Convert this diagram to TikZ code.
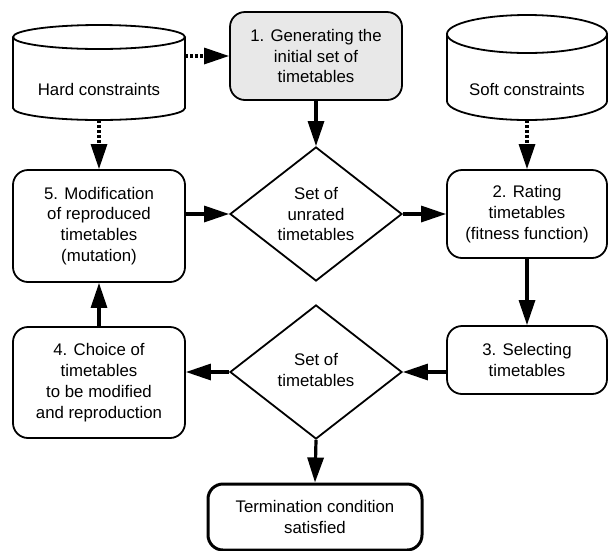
\documentclass[tikz,border=0pt]{standalone}
\usepackage{fontspec}
\setmainfont{Liberation Sans}
\usetikzlibrary{shapes.geometric,arrows.meta}
\begin{document}
\begin{tikzpicture}[x=1pt,y=-1pt,
  every node/.style={font=\fontsize{16.8}{20.8}\selectfont},
  box/.style={draw, line width=1.8pt, rounded corners=15pt, align=center, inner sep=0pt},
  dia/.style={draw, diamond, line width=1.8pt, inner sep=0pt, minimum width=172pt, minimum height=134pt},
  txt/.style={align=center, inner sep=0pt},
  cyl/.style={line width=1.8pt},
  arr/.style={line width=3.2pt, -{Triangle[length=25pt,width=16pt]}},
  darr/.style={line width=3.2pt, dash pattern=on 3pt off 2pt, -{Triangle[length=25pt,width=16pt]}}
]
\useasboundingbox (0,0) rectangle (610,550);

% Hard constraints cylinder
\draw[cyl] (99,37) ellipse [x radius=86, y radius=12];
\draw[cyl] (13,37) -- (13,108) arc [start angle=180, end angle=0, x radius=86, y radius=12] -- (185,37);
\node[inner sep=0pt, minimum width=172pt, minimum height=95pt] (hard) at (99,72.5) {};
\node[txt] (hardt) at (99,89) {Hard constraints};

% Soft constraints cylinder
\draw[cyl] (527,34) ellipse [x radius=80, y radius=19];
\draw[cyl] (447,34) -- (447,101) arc [start angle=180, end angle=0, x radius=80, y radius=19] -- (607,34);
\node[inner sep=0pt, minimum width=160pt, minimum height=105pt] (soft) at (527,67.5) {};
\node[txt] (softt) at (527,89) {Soft constraints};

% Boxes
\node[box, fill=gray!18, minimum width=172pt, minimum height=88pt] (b1) at (316,56) {1. Generating the\\initial set of\\timetables};
\node[box, minimum width=172pt, minimum height=112pt] (b5) at (99,226) {5. Modification\\of reproduced\\timetables\\(mutation)};
\node[box, minimum width=160pt, minimum height=88pt] (b2) at (527,214) {2. Rating\\timetables\\(fitness function)};
\node[box, minimum width=160pt, minimum height=68pt] (b3) at (527,360) {3. Selecting\\timetables};
\node[box, minimum width=172pt, minimum height=111pt] (b4) at (99,382.5) {4. Choice of\\timetables\\to be modified\\and reproduction};
\node[box, line width=3pt, minimum width=214pt, minimum height=66pt] (term) at (315,517) {Termination condition\\satisfied};

% Diamonds
\node[dia] (d1) at (316,214) {};
\node[txt] (d1t) at (316,214) {Set of\\unrated\\timetables};
\node[dia] (d2) at (316,372) {};
\node[txt] (d2t) at (316,370) {Set of\\timetables};

% Connectors
\draw[darr] (b1.west -| hard.east) -- (b1.west);
\draw[darr] (hard.south) -- (b5.north);
\draw[darr] (soft.south) -- (b2.north);
\draw[arr] (b1.south) -- (d1.north);
\draw[arr] (b5.east |- d1.west) -- (d1.west);
\draw[arr] (d1.east) -- (b2.west |- d1.east);
\draw[arr] (b2.south) -- (b3.north);
\draw[arr] (b3.west |- d2.east) -- (d2.east);
\draw[arr] (d2.west) -- (b4.east |- d2.west);
\draw[arr] (b4.north) -- (b5.south);
\draw[arr] (d2.south) -- (term.north);
\end{tikzpicture}
\end{document}
